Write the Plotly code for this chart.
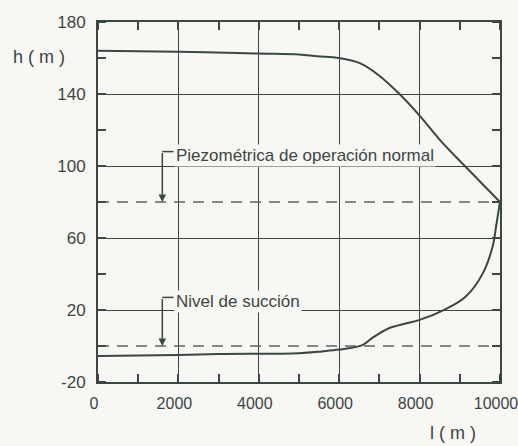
import plotly.graph_objects as go

# ---- data ----
l_piezo = [0, 2000, 4000, 5000, 5450, 6000, 6525, 6950, 7500, 8000, 8525, 9125, 10000]
h_piezo = [164, 163.5, 162.5, 162, 161, 160, 157, 151, 140, 128, 114, 100, 80]

l_suction = [0, 2000, 3000, 5000, 5575, 6000, 6575, 6825, 7250, 7650, 8000, 8650, 9150, 9575, 9825, 9900, 10000]
h_suction = [-5.5, -5, -4.5, -4, -3, -2, 0.5, 4.5, 10, 12.5, 14.5, 20.5, 27.5, 40.5, 56, 66, 80]

normal_level = 80
suction_level = 0
level_range = [0, 10000]

x_ticks = [0, 2000, 4000, 6000, 8000, 10000]
y_ticks = [-20, 20, 60, 100, 140, 180]

label_piezo = "Piezométrica de operación normal"
label_suction = "Nivel de succión"
marker_l = 1600

INK = "#3b4645"
DASH = "#5d6464"
PAPER = "#f7f7f3"
FONT = "Liberation Sans"

fig = go.Figure()

for lv in (normal_level, suction_level):
    fig.add_trace(go.Scatter(x=level_range, y=[lv, lv], mode="lines",
                             line=dict(color=DASH, width=1.6, dash="11px,8px"),
                             hoverinfo="skip", showlegend=False))

fig.add_trace(go.Scatter(x=l_piezo, y=h_piezo, mode="lines", line_shape="spline",
                         line=dict(color=INK, width=2), showlegend=False))
fig.add_trace(go.Scatter(x=l_suction, y=h_suction, mode="lines", line_shape="spline",
                         line=dict(color=INK, width=2), showlegend=False))

# labels with brackets
annots = []
for text, lv, ytext in ((label_piezo, normal_level, normal_level + 26),
                        (label_suction, suction_level, suction_level + 25)):
    annots.append(dict(x=marker_l + 300, y=ytext, xref="x", yref="y", text=text,
                       showarrow=False, xanchor="left", yanchor="middle",
                       font=dict(family=FONT, size=17, color=INK),
                       bgcolor=PAPER, borderpad=1))
    annots.append(dict(x=marker_l, y=lv, xref="x", yref="y", ax=marker_l, ay=ytext + 2,
                       axref="x", ayref="y", text="", showarrow=True,
                       arrowhead=2, arrowsize=1, arrowwidth=1.5, arrowcolor=INK))
    fig.add_shape(type="line", x0=marker_l, x1=marker_l + 280, y0=ytext + 2, y1=ytext + 2,
                  xref="x", yref="y", line=dict(color=INK, width=1.5))

annots.append(dict(x=-0.147, y=0.903, xref="paper", yref="paper", text="h ( m )",
                   showarrow=False, xanchor="center", yanchor="middle",
                   font=dict(family=FONT, size=18, color=INK)))
annots.append(dict(x=0.883, y=-0.142, xref="paper", yref="paper", text="l ( m )",
                   showarrow=False, xanchor="center", yanchor="middle",
                   font=dict(family=FONT, size=18, color=INK)))

axis_common = dict(showline=True, linecolor=INK, linewidth=1.8, mirror="allticks",
                   showgrid=True, gridcolor=INK, gridwidth=1.4, ticks="",
                   zeroline=False, ticklabeloverflow="allow")

fig.update_layout(
    width=518, height=446,
    margin=dict(l=98, r=18, t=22, b=64, autoexpand=False),
    paper_bgcolor=PAPER, plot_bgcolor=PAPER,
    annotations=annots,
    xaxis=dict(range=[0, 10000], tickvals=x_ticks, ticktext=[str(v) for v in x_ticks],
               minor=dict(ticks="inside", ticklen=8, tickcolor=INK, tickwidth=1.6, dtick=1000,
                          showgrid=False),
               tickfont=dict(family=FONT, size=16, color=INK),
               ticklabelstandoff=6, ticklabelshift=-4, **axis_common),
    yaxis=dict(range=[-20, 180], tickvals=y_ticks, ticktext=[str(v) for v in y_ticks],
               minor=dict(ticks="inside", ticklen=8, tickcolor=INK, tickwidth=1.6, dtick=20,
                          tick0=0, showgrid=False),
               tickfont=dict(family=FONT, size=17, color=INK),
               ticklabelstandoff=7, **axis_common),
    showlegend=False,
)

fig.write_html("out.html", config={"displayModeBar": False},
               post_script="document.body.style.margin='0px';document.body.style.overflow='hidden';")
